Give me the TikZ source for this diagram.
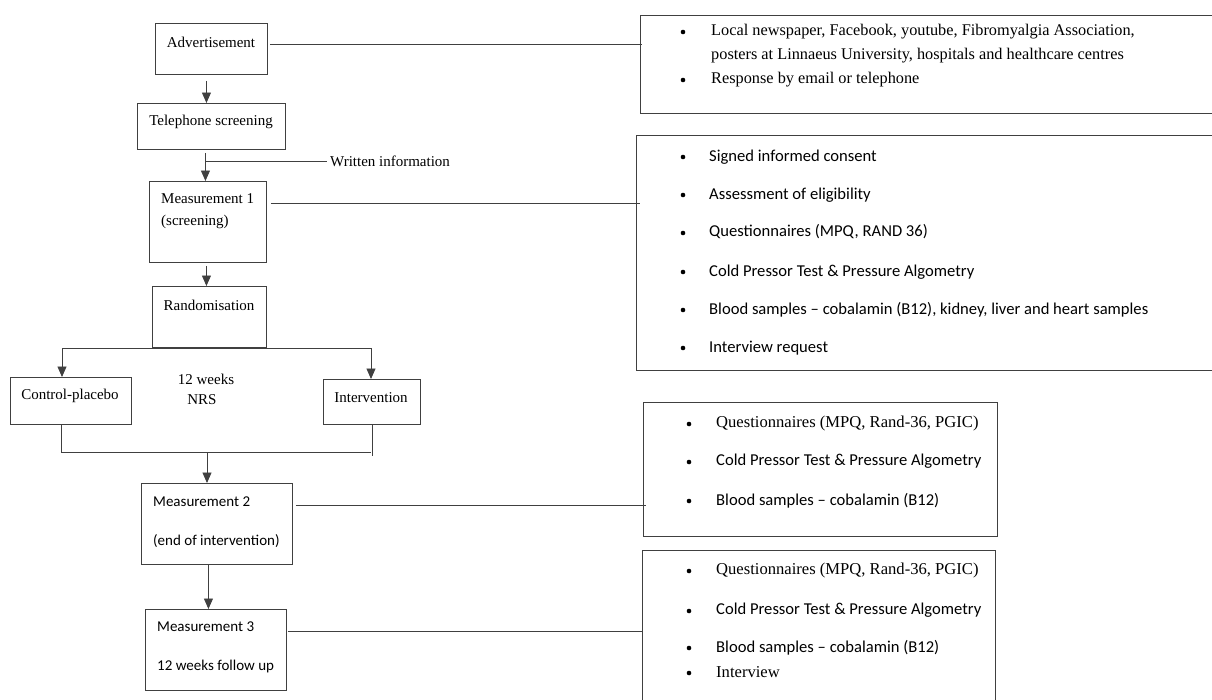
\documentclass[tikz,border=0pt]{standalone}
\usepackage{fontspec}
\setmainfont{Liberation Serif}
\newfontfamily\calib{Carlito}
\usetikzlibrary{arrows.meta}
\begin{document}
\begin{tikzpicture}[x=1pt,y=-1pt,
  box/.style={draw=black!75, line width=0.9pt, anchor=north west, inner sep=0},
  ser/.style={font=\fontsize{15}{18}\selectfont, inner sep=0, text=black},
  san/.style={font=\calib\fontsize{15}{18}\selectfont, inner sep=0, text=black},
  rser/.style={font=\fontsize{16.6}{20}\selectfont, inner sep=0, text=black, anchor=west},
  rsan/.style={font=\calib\fontsize{16.6}{20}\selectfont, inner sep=0, text=black, anchor=west},
  ln/.style={draw=black!75, line width=0.9pt},
  arr/.style={ln, -{Triangle[length=10.5pt,width=9pt]}},
  bul/.style={circle, fill=black, inner sep=0, minimum size=4.6pt}
]
\useasboundingbox (0,0) rectangle (1212,699);

% left column boxes
\node[box, minimum width=112, minimum height=51] (adv) at (155,23) {};
\node[box, minimum width=148, minimum height=46] (tel) at (137,103) {};
\node[box, minimum width=117, minimum height=81] (m1) at (149,181) {};
\node[box, minimum width=114, minimum height=61] (rand) at (152,286) {};
\node[box, minimum width=121, minimum height=47] (ctrl) at (10,377) {};
\node[box, minimum width=97, minimum height=45] (intv) at (323,379) {};
\node[box, minimum width=151, minimum height=81] (m2) at (141,483) {};
\node[box, minimum width=141, minimum height=81] (m3) at (145,609) {};

% right boxes
\node[box, minimum width=590, minimum height=98] (r1) at (640,15) {};
\node[box, minimum width=590, minimum height=235] (r2) at (636,135) {};
\node[box, minimum width=354, minimum height=134] (r3) at (643,402) {};
\node[box, minimum width=353, minimum height=170] (r4) at (642,550) {};

% left texts
\node[ser] (advt) at (211,42) {Advertisement};
\node[ser] (telt) at (211,122) {Telephone screening};
\node[ser, anchor=west, align=left, font=\fontsize{15}{22}\selectfont] (m1t) at (161,211) {Measurement 1\\(screening)};
\node[ser] (randt) at (209,305) {Randomisation};
\node[ser] (ctrlt) at (70,396) {Control-placebo};
\node[ser] (intvt) at (371,398) {Intervention};
\node[ser] (wk) at (206,379) {12 weeks};
\node[ser] (nrs) at (202,400) {NRS};
\node[ser, anchor=west] (wtext) at (330,161) {Written information};
\node[san, anchor=west, align=left, font=\calib\fontsize{15}{39}\selectfont] (m2t) at (153,522.5) {Measurement 2\\(end of intervention)};
\node[san, anchor=west, align=left, font=\calib\fontsize{15}{39}\selectfont] (m3t) at (157,647.5) {Measurement 3\\12 weeks follow up};

% R1
\node[bul] (b11) at (683,32) {};
\node[bul] (b12) at (683,80) {};
\node[rser, font=\fontsize{16.3}{20}\selectfont] (r1a) at (711,32) {Local newspaper, Facebook, youtube, Fibromyalgia Association,};
\node[rser, font=\fontsize{16.3}{20}\selectfont] (r1b) at (711,56) {posters at Linnaeus University, hospitals and healthcare centres};
\node[rser, font=\fontsize{16.3}{20}\selectfont] (r1c) at (711,80) {Response by email or telephone};

% R2
\node[bul] (b21) at (683,157) {};
\node[bul] (b22) at (683,195) {};
\node[bul] (b23) at (683,233) {};
\node[bul] (b24) at (683,272) {};
\node[bul] (b25) at (683,310) {};
\node[bul] (b26) at (683,348) {};
\node[rsan] (r2a) at (709,157) {Signed informed consent};
\node[rsan] (r2b) at (709,195) {Assessment of eligibility};
\node[rsan] (r2c) at (709,232) {Questionnaires (MPQ, RAND 36)};
\node[rsan] (r2d) at (709,272) {Cold Pressor Test \& Pressure Algometry};
\node[rsan] (r2e) at (709,310) {Blood samples – cobalamin (B12), kidney, liver and heart samples};
\node[rsan] (r2f) at (709,348) {Interview request};

% R3
\node[bul] (b31) at (689,424) {};
\node[bul] (b32) at (689,462) {};
\node[bul] (b33) at (689,501) {};
\node[rser] (r3a) at (716,424) {Questionnaires (MPQ, Rand-36, PGIC)};
\node[rsan] (r3b) at (716,461) {Cold Pressor Test \& Pressure Algometry};
\node[rsan] (r3c) at (716,501) {Blood samples – cobalamin (B12)};

% R4
\node[bul] (b41) at (689,571) {};
\node[bul] (b42) at (689,611) {};
\node[bul] (b43) at (689,648) {};
\node[bul] (b44) at (689,673) {};
\node[rser] (r4a) at (716,570) {Questionnaires (MPQ, Rand-36, PGIC)};
\node[rsan] (r4b) at (716,610) {Cold Pressor Test \& Pressure Algometry};
\node[rsan] (r4c) at (716,648) {Blood samples – cobalamin (B12)};
\node[rser] (r4d) at (716,672) {Interview};

% coordinates
\coordinate (wi) at (206,161);
\coordinate (sl) at (62,348);
\coordinate (sr) at (371,348);
\coordinate (mL) at (61,452);
\coordinate (mR) at (371,452);
\coordinate (mM) at (207,452);

% vertical flow
\draw[arr] ([xshift=-5pt,yshift=-6pt]adv.south) -- ([xshift=-5pt]tel.north);
\draw[arr] ([xshift=-6pt,yshift=-3pt]tel.south) -- ([xshift=-2.5pt]m1.north);
\draw[ln, shorten >=3pt] (wi) -- (wtext.west);
\draw[arr] ([xshift=-1.5pt,yshift=-3pt]m1.south) -- ([xshift=-3pt]rand.north);
\draw[ln] (sl) -- (sr);
\draw[arr] (sl) -- (sl |- ctrl.north);
\draw[arr] (sr) -- (sr |- intv.north);
\draw[ln] (ctrl.south -| mL) -- (mL) -- (mR);
\draw[ln] (intv.south) -- ([yshift=-31pt]intv.south);
\draw[arr] (mM) -- (mM |- m2.north);
\draw[arr] ([xshift=-8.5pt]m2.south) -- ([xshift=-8.5pt]m2.south |- m3.north);

% horizontal links
\draw[ln] ([xshift=2pt,yshift=4.5pt]adv.east) -- ([xshift=2pt,yshift=4.5pt]adv.east -| r1.west);
\draw[ln] ([xshift=4pt,yshift=18.5pt]m1.east) -- ([xshift=4pt,yshift=18.5pt]m1.east -| r2.west);
\draw[ln] ([xshift=3pt,yshift=18.5pt]m2.east) -- ([xshift=3pt,yshift=18.5pt]m2.east -| r3.west);
\draw[ln] ([xshift=1pt,yshift=18.5pt]m3.east) -- ([xshift=1pt,yshift=18.5pt]m3.east -| r4.west);
\end{tikzpicture}
\end{document}
